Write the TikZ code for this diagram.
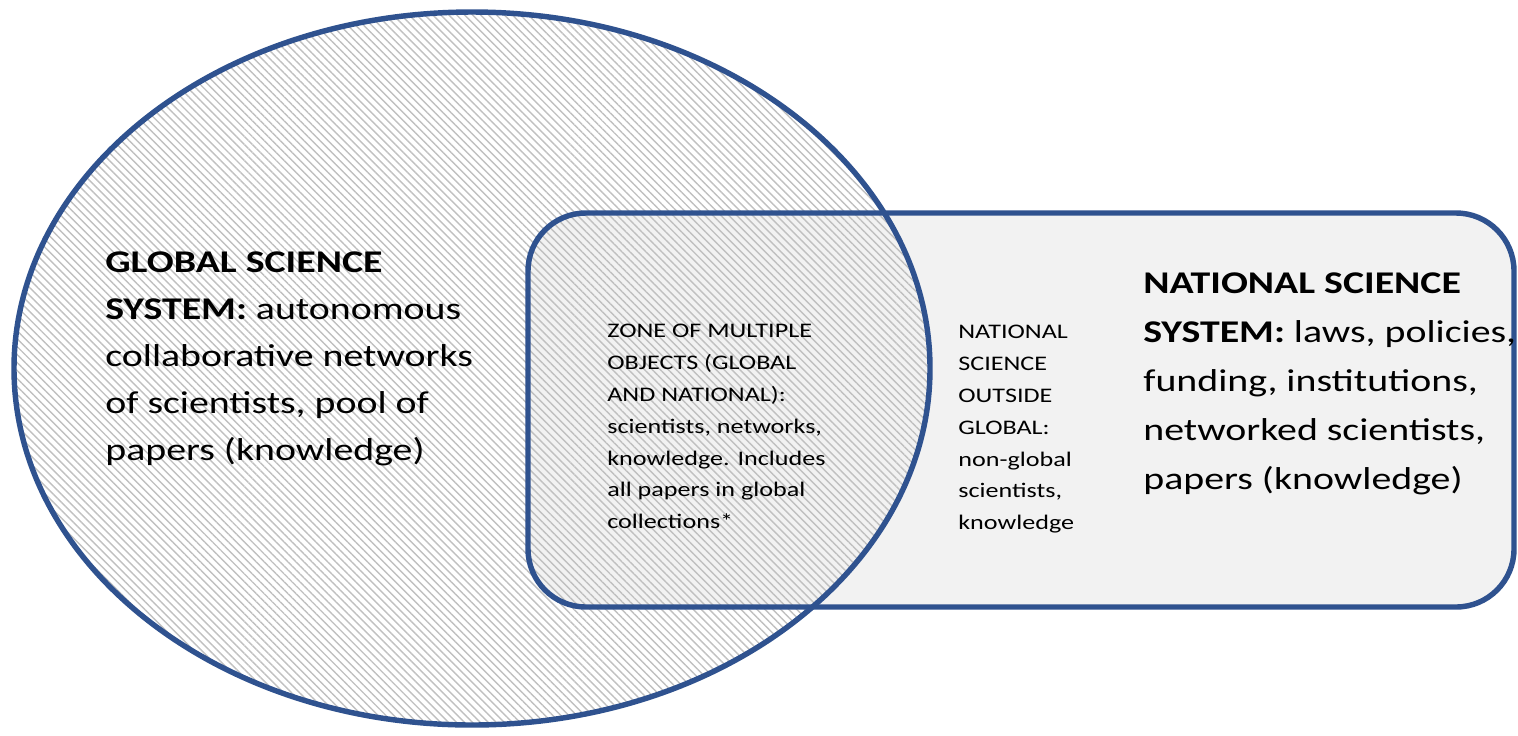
\documentclass[tikz,border=0pt]{standalone}
\usepackage{fontspec}
\setmainfont{Carlito}[FakeStretch=1.26]
\usetikzlibrary{patterns.meta}
\definecolor{venblue}{RGB}{47,82,143}
\definecolor{nationalgray}{RGB}{242,242,242}
\definecolor{hatchgray}{RGB}{192,192,192}

\begin{document}
\begin{tikzpicture}[x=0.02cm, y=-0.02cm,
    outline/.style={draw=venblue, line width=3.1pt},
    hatched/.style={pattern={Lines[angle=-45, distance=3.2pt, line width=0.8pt]}, pattern color=hatchgray},
    bigtext/.style={anchor=north west, align=left, inner sep=0pt, font=\fontsize{18}{26.8}\selectfont},
    natext/.style={anchor=north west, align=left, inner sep=0pt, font=\fontsize{18}{27.9}\selectfont},
    smalltext/.style={anchor=north west, align=left, inner sep=0pt, font=\fontsize{11.8}{18.1}\selectfont}]
    \useasboundingbox (0,0) rectangle (1518,735);

    % National system (rounded box)
    \fill[nationalgray, rounded corners=33pt] (528,213) rectangle (1514,607);

    % Global system (hatched ellipse)
    \fill[hatched] (472,368.5) ellipse [x radius=458, y radius=356.5];

    % Outlines
    \draw[outline] (472,368.5) ellipse [x radius=458, y radius=356.5];
    \draw[outline, rounded corners=33pt] (528,213) rectangle (1514,607);

    % Labels
    \node[bigtext] (globaltxt) at (105,251) {\textbf{GLOBAL SCIENCE}\\\textbf{SYSTEM:} autonomous\\collaborative networks\\of scientists, pool of\\papers (knowledge)};
    \node[smalltext] (zonetxt) at (607,324) {ZONE OF MULTIPLE\\OBJECTS (GLOBAL\\AND NATIONAL):\\scientists, networks,\\knowledge. Includes\\all papers in global\\collections*};
    \node[smalltext] (outsidetxt) at (958,325) {NATIONAL\\SCIENCE\\OUTSIDE\\GLOBAL:\\non-global\\scientists,\\knowledge};
    \node[natext] (nationaltxt) at (1143,272) {\textbf{NATIONAL SCIENCE}\\\textbf{SYSTEM:} laws, policies,\\funding, institutions,\\networked scientists,\\papers (knowledge)};
\end{tikzpicture}
\end{document}
